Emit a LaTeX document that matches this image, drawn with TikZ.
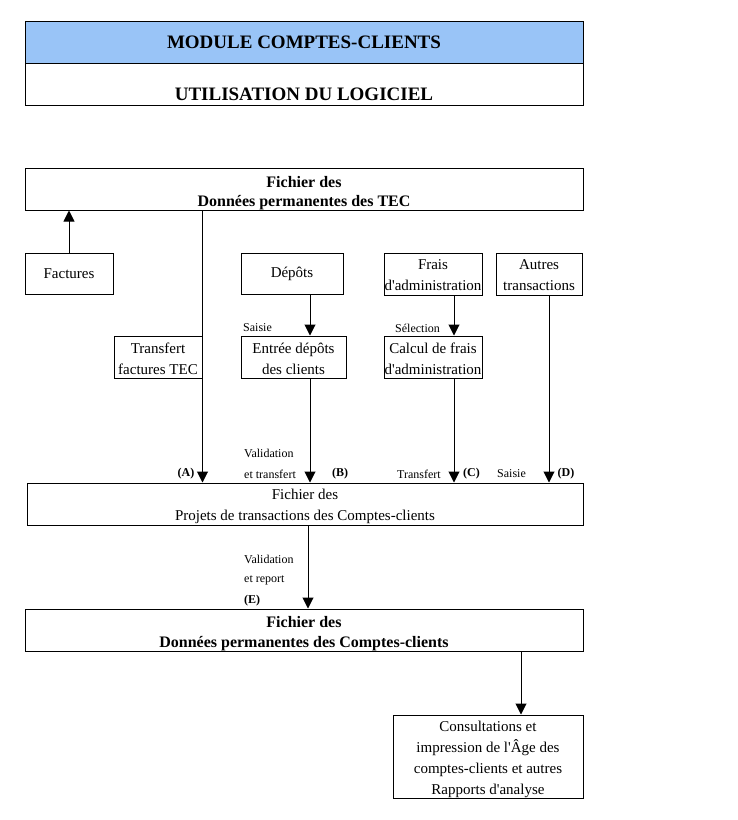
\documentclass[tikz,border=0pt]{standalone}
\usepackage{fontspec}
\setmainfont{Liberation Serif}[Ligatures=TeXOff]
\usetikzlibrary{arrows.meta, positioning}
\definecolor{headBlue}{RGB}{153,196,247}
\newcommand\lift[1]{\rule{0pt}{#1}}

\tikzset{
  frame/.style={draw, line width=1pt, inner sep=0pt, align=center},
  box/.style={frame, font=\fontsize{15}{21}\selectfont},
  boldbox/.style={frame, font=\fontsize{16}{19.5}\selectfont\bfseries},
  headbox/.style={frame, minimum width=558, minimum height=42,
    font=\fontsize{19}{22}\selectfont\bfseries},
  note/.style={inner sep=0pt, anchor=west, font=\fontsize{12}{14}\selectfont},
  tag/.style={inner sep=0pt, font=\fontsize{12}{14}\selectfont\bfseries},
  flow/.style={-{Triangle[width=11pt,length=11pt]}, line width=1pt},
}

\begin{document}
\begin{tikzpicture}[x=1pt, y=-1pt]
  \useasboundingbox (0,0) rectangle (737,820);

  % title block
  \node[headbox, fill=headBlue] (headA) at (304,42.5) {MODULE COMPTES-CLIENTS};
  \node[headbox] (headB) at (304,84.5)
        {\raisebox{-16pt}[0pt][0pt]{UTILISATION DU LOGICIEL}};

  % files
  \node[boldbox, minimum width=558, minimum height=42] (tec) at (304,189)
        {\lift{19pt}Fichier des\\Données permanentes des TEC};
  \node[box, minimum width=556, minimum height=42] (proj) at (305,504)
        {\lift{16pt}Fichier des\\Projets de transactions des Comptes-clients};
  \node[boldbox, minimum width=558, minimum height=42] (cc) at (304,630)
        {\lift{18pt}Fichier des\\Données permanentes des Comptes-clients};

  % sources
  \node[box, minimum width=88, minimum height=41] (fact) at (69,273.5) {Factures};
  \node[box, minimum width=102, minimum height=41] (dep) at (292,273.5) {Dépôts};
  \node[box, minimum width=98, minimum height=42] (frais) at (433,274) {\lift{13pt}Frais\\d'administration};
  \node[box, minimum width=86, minimum height=42] (autres) at (539,274) {\lift{13pt}Autres\\transactions};

  % processes
  \node[box, minimum width=88, minimum height=42] (trf) at (158,357) {\lift{14pt}Transfert\\factures TEC};
  \node[box, minimum width=105, minimum height=42] (entree) at (293.5,357) {\lift{14pt}Entrée dépôts\\des clients};
  \node[box, minimum width=98, minimum height=42] (calc) at (433,357) {\lift{14pt}Calcul de frais\\d'administration};
  \node[box, minimum width=190, minimum height=83] (cons) at (488,756.5)
        {\lift{16pt}Consultations et\\impression de l'Âge des\\comptes-clients et autres\\Rapports d'analyse};

  % connectors
  \draw[flow] (fact.north) -- (fact.north |- tec.south);
  \draw[flow] (tec.south -| trf.east) -- (trf.east |- proj.north);
  \draw[flow] ([xshift=18]dep.south) -- ([xshift=18]dep.south |- entree.north);
  \draw[flow] ([xshift=16.5]entree.south) -- ([xshift=16.5]entree.south |- proj.north);
  \draw[flow] ([xshift=21]frais.south) -- ([xshift=21]frais.south |- calc.north);
  \draw[flow] ([xshift=21]calc.south) -- ([xshift=21]calc.south |- proj.north);
  \draw[flow] ([xshift=10]autres.south) -- ([xshift=10]autres.south |- proj.north);
  \draw[flow] ([xshift=3]proj.south) -- ([xshift=3]proj.south |- cc.north);
  \draw[flow] ([xshift=33]cons.north |- cc.south) -- ([xshift=33]cons.north);

  % labels
  \node[note] (sai1) at (243,328) {Saisie};
  \node[note] (sel) at (395,328) {Sélection};
  \node[note] (val1) at (244,453) {Validation};
  \node[note] (ettr) at (244,474) {et transfert};
  \node[note] (tra) at (397,474) {Transfert};
  \node[note] (sai2) at (497,474) {Saisie};
  \node[note] (val2) at (244,559) {Validation};
  \node[note] (etrp) at (244,580) {et report};
  \node[tag] (tA) at (186,474) {(A)};
  \node[tag] (tB) at (340,474) {(B)};
  \node[tag] (tC) at (471.5,474) {(C)};
  \node[tag] (tD) at (566,474) {(D)};
  \node[tag, anchor=west] (tE) at (244,601) {(E)};
\end{tikzpicture}
\end{document}
